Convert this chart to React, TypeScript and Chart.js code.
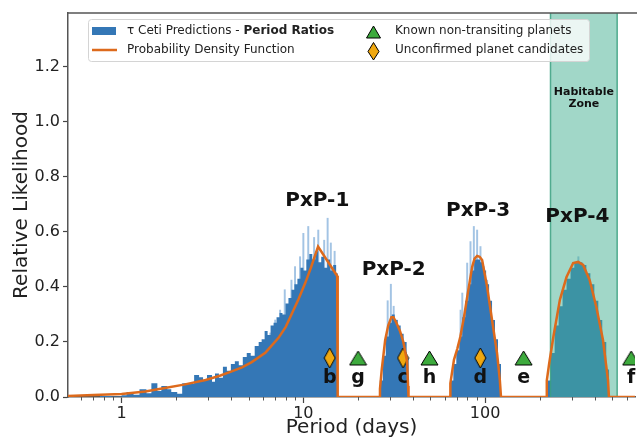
import React, { useEffect, useRef } from 'react';
import { Chart, registerables } from 'chart.js';

Chart.register(...registerables);

const FONT = "'DejaVu Sans', sans-serif";

// ---------- data ----------
// Histogram of period ratios: bin left edges (days) and relative likelihood
const histPeriods = [
  0.758, 0.882, 1.0, 1.065, 1.163, 1.254, 1.37, 1.458, 1.573, 1.654,
  1.784, 1.876, 2.023, 2.154, 2.323, 2.506, 2.669, 2.806, 2.951, 3.143,
  3.264, 3.432, 3.609, 3.795, 3.991, 4.198, 4.414, 4.642, 4.881, 5.133,
  5.398, 5.677, 5.895, 6.122, 6.358, 6.601, 6.857, 7.12, 7.394, 7.677,
  7.973, 8.279, 8.598, 8.929, 9.273, 9.63, 10.0, 10.38, 10.78, 11.2,
  11.63, 12.08, 12.54, 13.02, 13.53, 14.05, 14.59, 15.15, 15.45,
  26.35, 27.36, 28.41, 29.51, 30.64, 31.82, 33.04, 34.31, 35.63, 37.0, 37.95,
  64.39, 66.86, 69.43, 72.09, 74.86, 77.74, 80.73, 83.83, 87.05, 90.43, 93.91,
  97.52, 101.3, 105.2, 109.2, 113.4, 117.8, 122.3,
  218.2, 229.5, 241.3, 253.8, 266.8, 280.6, 295.1, 310.3, 326.3, 343.1, 360.8,
  379.5, 399.1, 419.7, 441.3, 464.2, 482.1,
];
const histValues = [
  0.004, 0.002, 0.006, 0.018, 0.008, 0.028, 0.014, 0.05, 0.022, 0.04,
  0.028, 0.018, 0.012, 0.05, 0.048, 0.08, 0.072, 0.062, 0.08, 0.055,
  0.085, 0.07, 0.11, 0.095, 0.12, 0.13, 0.115, 0.145, 0.16, 0.15,
  0.185, 0.2, 0.21, 0.24, 0.225, 0.26, 0.27, 0.29, 0.305, 0.3,
  0.34, 0.36, 0.39, 0.41, 0.43, 0.47, 0.46, 0.5, 0.52, 0.5,
  0.53, 0.49, 0.51, 0.47, 0.5, 0.46, 0.48, 0.45, 0,
  0.06, 0.15, 0.22, 0.27, 0.3, 0.28, 0.26, 0.23, 0.2, 0.14, 0,
  0.06, 0.12, 0.17, 0.22, 0.29, 0.35, 0.41, 0.46, 0.5, 0.5, 0.49,
  0.46, 0.41, 0.35, 0.28, 0.21, 0.12, 0,
  0.06, 0.16, 0.26, 0.33, 0.39, 0.43, 0.47, 0.49, 0.49, 0.48, 0.45,
  0.41, 0.35, 0.28, 0.2, 0.1, 0,
];

// Thin tall histogram bins (lighter streaks)
const spikePeriods = [5.68, 6.06, 6.58, 7.0, 7.45, 7.9, 8.6, 9.0, 9.59, 10.0, 10.64, 11.46, 12.08, 13.02, 13.6, 14.16, 14.86,
  29.1, 30.3, 31.4, 32.6, 73.3, 74.9, 79.7, 83.1, 86.7, 90.4, 94.3, 98.4, 102.6, 312, 326];
const spikeValues = [0.16, 0.196, 0.233, 0.28, 0.316, 0.39, 0.425, 0.474, 0.51, 0.595, 0.62, 0.58, 0.607, 0.57, 0.65, 0.56, 0.53,
  0.35, 0.41, 0.33, 0.28, 0.316, 0.378, 0.487, 0.565, 0.62, 0.607, 0.547, 0.474, 0.425, 0.49, 0.51];

// Probability density function
const pdfPeriods = [
  0.507, 0.7, 1.0, 1.35, 1.7, 2.2, 2.9, 3.5, 4.0, 4.6, 5.2, 6.2, 7.3, 8.0, 8.6, 9.4, 10.25, 11.0, 12.05, 15.35, 15.45,
  26.3, 26.4, 27.0, 28.2, 29.3, 30.5, 31.3, 32.5, 34.0, 35.5, 37.2, 37.7, 37.9,
  64.3, 64.4, 67.4, 70.3, 73.0, 76.5, 79.7, 84.9, 87.5, 90.4, 93.3, 96.3, 102.6, 109.2, 116.3, 120.5, 122.3,
  218.2, 218.5, 225.0, 237.4, 257.9, 280.6, 305.2, 325.1, 346.2, 376.2, 409.3, 445.3, 474.3, 480.3, 668,
];
const pdfValues = [
  0.004, 0.007, 0.011, 0.02, 0.032, 0.045, 0.062, 0.078, 0.092, 0.108, 0.127, 0.162, 0.215, 0.255, 0.3, 0.355, 0.415, 0.47, 0.547, 0.44, 0,
  0, 0.03, 0.1, 0.207, 0.26, 0.29, 0.29, 0.27, 0.24, 0.2, 0.13, 0.04, 0,
  0, 0.05, 0.135, 0.175, 0.218, 0.29, 0.364, 0.473, 0.503, 0.513, 0.51, 0.498, 0.4, 0.28, 0.16, 0.062, 0,
  0, 0.06, 0.12, 0.218, 0.353, 0.436, 0.487, 0.491, 0.48, 0.425, 0.327, 0.207, 0.062, 0, 0,
];

// Planets
const knownNames = ['g', 'h', 'e', 'f'];
const knownPeriods = [20.0, 49.41, 162.87, 636.13];
const candidateNames = ['b', 'c', 'd'];
const candidatePeriods = [13.965, 35.362, 94.11];
const markerLevel = 0.1418;
const letterLevel = 0.05;

// Peak labels
const peakNames = ['PxP-1', 'PxP-2', 'PxP-3', 'PxP-4'];
const peakPeriods = [11.93, 31.4, 91.5, 322];
const peakLevels = [0.714, 0.462, 0.676, 0.655];

// Habitable zone
const hzRange = [229, 533];
const hzLines = ['Habitable', 'Zone'];
const hzLevels = [1.108, 1.064];

// Axes
const xMin = 0.507;
const xMax = 668;
const yMax = 1.396;
const yTickValues = [0, 0.2, 0.4, 0.6, 0.8, 1.0, 1.2];
const xTickValues = [0.6, 0.7, 0.8, 0.9, 1, 2, 3, 4, 5, 6, 7, 8, 9, 10, 20, 30, 40, 50, 60, 70, 80, 90, 100, 200, 300, 400, 500, 600];
const xMajorTicks = [1, 10, 100];

const legendHistA = 'τ Ceti Predictions - ';
const legendHistB = 'Period Ratios';
const legendPdf = 'Probability Density Function';
const legendKnown = 'Known non-transiting planets';
const legendCand = 'Unconfirmed planet candidates';

// ---------- styles ----------
const HIST_COLOR = '#3477b6';
const SPIKE_COLOR = '#a3c4e4';
const PDF_COLOR = '#dd6a1c';
const GREEN = '#3daa3d';
const GOLD = '#f0a810';
const HZ_FILL = 'rgba(67,176,146,0.5)';
const HZ_EDGE = 'rgba(58,160,128,0.85)';
const AXIS_COLOR = '#555555';
const TEXT_COLOR = '#222222';

function makeTriangle(w: number, h: number) {
  const c = document.createElement('canvas');
  c.width = w + 2;
  c.height = h + 2;
  const g = c.getContext('2d')!;
  g.beginPath();
  g.moveTo(1 + w / 2, 1);
  g.lineTo(1 + w, 1 + h);
  g.lineTo(1, 1 + h);
  g.closePath();
  g.fillStyle = GREEN;
  g.fill();
  g.strokeStyle = '#000';
  g.lineWidth = 1;
  g.stroke();
  return c;
}

function makeDiamond(w: number, h: number) {
  const c = document.createElement('canvas');
  c.width = w + 2;
  c.height = h + 2;
  const g = c.getContext('2d')!;
  g.beginPath();
  g.moveTo(1 + w / 2, 1);
  g.lineTo(1 + w, 1 + h / 2);
  g.lineTo(1 + w / 2, 1 + h);
  g.lineTo(1, 1 + h / 2);
  g.closePath();
  g.fillStyle = GOLD;
  g.fill();
  g.strokeStyle = '#000';
  g.lineWidth = 1;
  g.stroke();
  return c;
}

const HIST_INDEX = 3;
const PDF_INDEX = 0;

function drawHZ(chart: any) {
  const { ctx, chartArea, scales } = chart;
  const x0 = scales.x.getPixelForValue(hzRange[0]);
  const x1 = scales.x.getPixelForValue(hzRange[1]);
  ctx.save();
  ctx.beginPath();
  ctx.rect(chartArea.left, chartArea.top, chartArea.right - chartArea.left, chartArea.bottom - chartArea.top);
  ctx.clip();
  ctx.fillStyle = HZ_FILL;
  ctx.fillRect(x0, chartArea.top, x1 - x0, chartArea.bottom - chartArea.top);
  ctx.strokeStyle = HZ_EDGE;
  ctx.lineWidth = 1.5;
  ctx.beginPath();
  ctx.moveTo(x0, chartArea.top);
  ctx.lineTo(x0, chartArea.bottom);
  ctx.moveTo(x1, chartArea.top);
  ctx.lineTo(x1, chartArea.bottom);
  ctx.stroke();
  ctx.restore();
}

function drawLetters(chart: any) {
  const { ctx, scales } = chart;
  ctx.save();
  ctx.font = `bold 19px ${FONT}`;
  ctx.fillStyle = '#111';
  ctx.textAlign = 'center';
  ctx.textBaseline = 'alphabetic';
  const y = scales.y.getPixelForValue(letterLevel);
  knownNames.forEach((n, i) => ctx.fillText(n, scales.x.getPixelForValue(knownPeriods[i]), y));
  candidateNames.forEach((n, i) => ctx.fillText(n, scales.x.getPixelForValue(candidatePeriods[i]), y));
  ctx.restore();
}

function drawDecor(chart: any) {
  const { ctx, chartArea, scales } = chart;
  ctx.save();
  // top spine
  ctx.strokeStyle = AXIS_COLOR;
  ctx.lineWidth = 1.5;
  ctx.beginPath();
  ctx.moveTo(chartArea.left, chartArea.top);
  ctx.lineTo(chartArea.right + 2, chartArea.top);
  ctx.stroke();
  // minor x ticks
  ctx.lineWidth = 1;
  ctx.strokeStyle = '#555';
  ctx.beginPath();
  xTickValues.forEach((v) => {
    if (xMajorTicks.includes(v)) return;
    const px = Math.round(scales.x.getPixelForValue(v)) + 0.5;
    ctx.moveTo(px, chartArea.bottom);
    ctx.lineTo(px, chartArea.bottom + 3.5);
  });
  ctx.stroke();

  // peak labels
  ctx.font = `bold 20px ${FONT}`;
  ctx.fillStyle = '#111';
  ctx.textAlign = 'center';
  ctx.textBaseline = 'middle';
  peakNames.forEach((n, i) => {
    ctx.fillText(n, scales.x.getPixelForValue(peakPeriods[i]), scales.y.getPixelForValue(peakLevels[i]));
  });

  // habitable zone label
  ctx.font = `bold 11px ${FONT}`;
  const hzX = scales.x.getPixelForValue(Math.sqrt(hzRange[0] * hzRange[1]));
  hzLines.forEach((t, i) => ctx.fillText(t, hzX, scales.y.getPixelForValue(hzLevels[i])));

  // legend
  const bx = 88.5, by = 19.5, bw = 501, bh = 42, r = 3;
  ctx.beginPath();
  ctx.moveTo(bx + r, by);
  ctx.lineTo(bx + bw - r, by);
  ctx.quadraticCurveTo(bx + bw, by, bx + bw, by + r);
  ctx.lineTo(bx + bw, by + bh - r);
  ctx.quadraticCurveTo(bx + bw, by + bh, bx + bw - r, by + bh);
  ctx.lineTo(bx + r, by + bh);
  ctx.quadraticCurveTo(bx, by + bh, bx, by + bh - r);
  ctx.lineTo(bx, by + r);
  ctx.quadraticCurveTo(bx, by, bx + r, by);
  ctx.closePath();
  ctx.fillStyle = 'rgba(255,255,255,0.8)';
  ctx.fill();
  ctx.strokeStyle = '#d4d4d4';
  ctx.lineWidth = 1;
  ctx.stroke();

  const row1 = 31, row2 = 50;
  ctx.fillStyle = HIST_COLOR;
  ctx.fillRect(92, row1 - 4, 24, 8);
  ctx.strokeStyle = PDF_COLOR;
  ctx.lineWidth = 2.5;
  ctx.beginPath();
  ctx.moveTo(92, row2);
  ctx.lineTo(117, row2);
  ctx.stroke();

  ctx.textAlign = 'left';
  ctx.fillStyle = TEXT_COLOR;
  ctx.font = `12px ${FONT}`;
  ctx.fillText(legendHistA, 127, row1);
  const wA = ctx.measureText(legendHistA).width;
  ctx.font = `bold 12px ${FONT}`;
  ctx.fillText(legendHistB, 127 + wA, row1);
  ctx.font = `12px ${FONT}`;
  ctx.fillText(legendPdf, 127, row2);
  ctx.fillText(legendKnown, 395, row1);
  ctx.fillText(legendCand, 395, row2);

  // legend markers
  ctx.lineWidth = 1;
  ctx.strokeStyle = '#000';
  ctx.fillStyle = GREEN;
  ctx.beginPath();
  ctx.moveTo(373.5, row1 - 5);
  ctx.lineTo(380.5, row1 + 7);
  ctx.lineTo(366.5, row1 + 7);
  ctx.closePath();
  ctx.fill();
  ctx.stroke();
  ctx.fillStyle = GOLD;
  ctx.beginPath();
  ctx.moveTo(373.5, row2 - 7.5);
  ctx.lineTo(379, row2 + 1.5);
  ctx.lineTo(373.5, row2 + 10);
  ctx.lineTo(368, row2 + 1.5);
  ctx.closePath();
  ctx.fill();
  ctx.stroke();
  ctx.restore();
}

const decorPlugin = {
  id: 'decor',
  afterDatasetDraw(chart: any, args: any) {
    if (args.index === HIST_INDEX) drawHZ(chart);
  },
  beforeDatasetDraw(chart: any, args: any) {
    if (args.index === PDF_INDEX) drawLetters(chart);
  },
  afterDraw(chart: any) {
    drawDecor(chart);
  },
};

export default function App() {
  const ref = useRef<HTMLCanvasElement>(null);

  useEffect(() => {
    const canvas = ref.current;
    if (!canvas) return;
    const tri = makeTriangle(17, 14);
    const dia = makeDiamond(11, 20);

    const chart = new Chart(canvas, {
      type: 'line',
      data: {
        datasets: [
          {
            type: 'line',
            label: legendPdf,
            data: pdfPeriods.map((p, i) => ({ x: p, y: pdfValues[i] })),
            borderColor: PDF_COLOR,
            borderWidth: 2.5,
            pointRadius: 0,
            tension: 0,
            fill: false,
            order: 0,
          } as any,
          {
            type: 'scatter',
            label: legendCand,
            data: candidatePeriods.map((p) => ({ x: p, y: markerLevel })),
            pointStyle: dia,
            pointRadius: 0.1,
            pointBorderWidth: 0,
            order: 1,
          } as any,
          {
            type: 'scatter',
            label: legendKnown,
            data: knownPeriods.map((p) => ({ x: p, y: markerLevel })),
            pointStyle: tri,
            pointRadius: 0.1,
            pointBorderWidth: 0,
            order: 2,
          } as any,
          {
            type: 'line',
            label: legendHistA + legendHistB,
            data: histPeriods.map((p, i) => ({ x: p, y: histValues[i] })),
            stepped: 'before',
            borderColor: 'rgba(0,0,0,0)',
            borderWidth: 0,
            backgroundColor: HIST_COLOR,
            fill: 'origin',
            pointRadius: 0,
            order: 4,
          } as any,
          {
            type: 'bar',
            label: 'spikes',
            data: spikePeriods.map((p, i) => ({ x: p, y: spikeValues[i] })),
            backgroundColor: SPIKE_COLOR,
            barThickness: 1.3,
            order: 5,
          } as any,
        ],
      },
      options: {
        responsive: false,
        maintainAspectRatio: false,
        animation: false,
        events: [],
        layout: { padding: { top: 13, left: 0, right: 0, bottom: 0 } },
        plugins: {
          legend: { display: false },
          tooltip: { enabled: false },
          title: { display: false },
        },
        scales: {
          x: {
            type: 'logarithmic',
            position: 'bottom',
            min: xMin,
            max: xMax,
            offset: false,
            afterBuildTicks: (s: any) => {
              s.ticks = xTickValues.map((v) => ({ value: v, major: false }));
            },
            afterFit: (s: any) => {
              s.height = 43;
            },
            ticks: {
              autoSkip: false,
              maxRotation: 0,
              minRotation: 0,
              padding: 1,
              color: TEXT_COLOR,
              font: { family: FONT, size: 16 },
              callback: (v: any) => (xMajorTicks.includes(Number(v)) ? String(v) : ''),
            },
            grid: {
              display: true,
              offset: false,
              drawOnChartArea: false,
              drawTicks: true,
              tickLength: 6,
              tickWidth: 1.2,
              tickColor: (c: any) => (c.tick && xMajorTicks.includes(c.tick.value) ? '#444' : 'rgba(0,0,0,0)'),
            },
            border: { display: true, color: AXIS_COLOR, width: 1.5 },
            title: {
              display: true,
              text: 'Period (days)',
              color: TEXT_COLOR,
              font: { family: FONT, size: 20 },
              padding: { top: 0, bottom: 0 },
            },
          } as any,
          y: {
            type: 'linear',
            position: 'left',
            min: 0,
            max: yMax,
            afterBuildTicks: (s: any) => {
              s.ticks = yTickValues.map((v) => ({ value: v }));
            },
            afterFit: (s: any) => {
              s.width = 68;
            },
            ticks: {
              padding: 3,
              color: TEXT_COLOR,
              font: { family: FONT, size: 16 },
              callback: (v: any) => Number(v).toFixed(1),
            },
            grid: {
              display: true,
              drawOnChartArea: false,
              drawTicks: true,
              tickLength: 5,
              tickWidth: 1.2,
              tickColor: '#444',
            },
            border: { display: true, color: AXIS_COLOR, width: 1.5 },
            title: {
              display: true,
              text: 'Relative Likelihood',
              color: TEXT_COLOR,
              font: { family: FONT, size: 20 },
              padding: { top: 10, bottom: 0 },
            },
          } as any,
        },
      },
      plugins: [decorPlugin],
    });
    return () => chart.destroy();
  }, []);

  return (
    <div style={{ position: 'fixed', left: 0, top: 0, width: 639, height: 440, background: '#ffffff' }}>
      <canvas ref={ref} width={639} height={440} style={{ display: 'block', width: 639, height: 440 }} />
    </div>
  );
}
